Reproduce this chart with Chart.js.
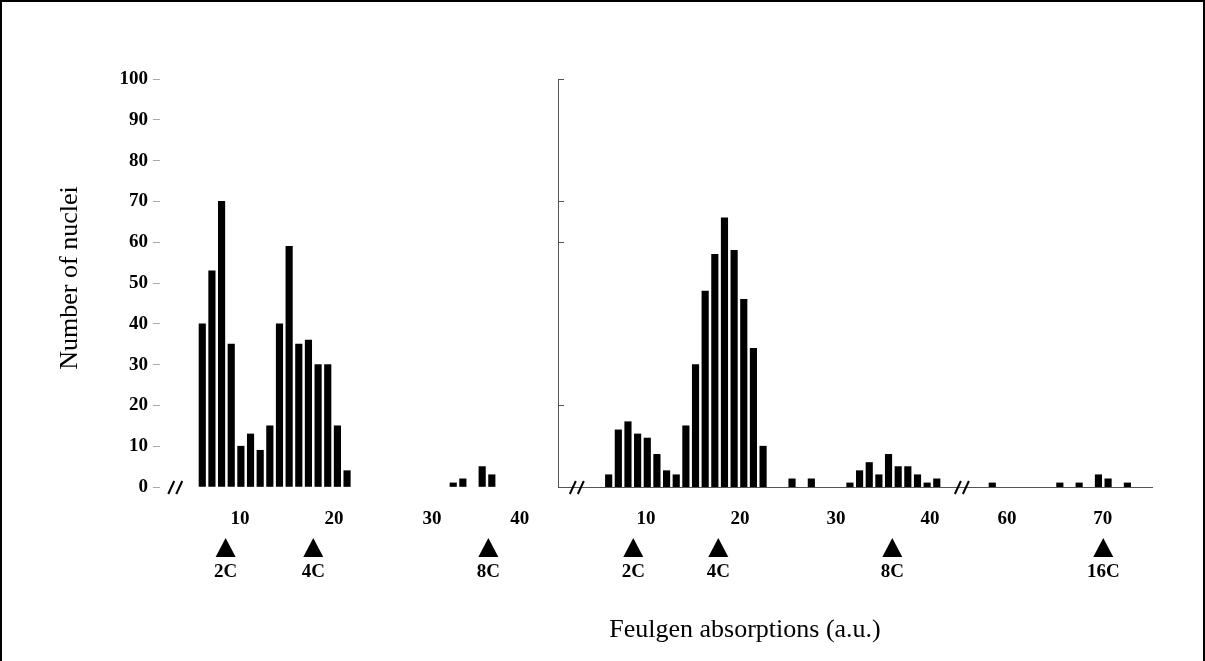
<!DOCTYPE html>
<html>
<head>
<meta charset="utf-8">
<script src="https://cdn.jsdelivr.net/npm/chart.js@4"></script>
<style>
  body { margin: 0; background: #fff; }
  #wrap { position: relative; width: 1205px; height: 661px; overflow: hidden; }
  #wrap canvas { position: absolute; left: 0; top: 0; }
  #frame { position: absolute; left: 0; top: 0; width: 1205px; height: 670px; box-sizing: border-box; border: 2px solid #000; }
</style>
</head>
<body>
<div id="wrap">
  <canvas id="leftCanvas" width="1205" height="661"></canvas>
  <canvas id="rightCanvas" width="1205" height="661"></canvas>
  <div id="frame"></div>
</div>
<script>
// left panel: bins along the drawn axis and the counts in them
const leftBins = [0, 1, 2, 3, 4, 5, 6, 7, 8, 9, 10, 11, 12, 13, 14, 15, 26, 27, 29, 30];
const leftCounts = [40, 53, 70, 35, 10, 13, 9, 15, 40, 59, 35, 36, 30, 30, 15, 4, 1, 2, 5, 3];
const leftTickAt = [3.9, 13.65, 23.8, 32.9];
const leftTickText = ['10', '20', '30', '40'];
const leftPloidyAt = [2.42, 11.5, 29.64];
const leftPloidyText = ['2C', '4C', '8C'];
const leftBreaks = [-2.8];

// right panel
const rightBins = [0, 1, 2, 3, 4, 5, 6, 7, 8, 9, 10, 11, 12, 13, 14, 15, 16, 19, 21,
  25, 26, 27, 28, 29, 30, 31, 32, 33, 34, 39.75, 46.75, 48.75, 50.75, 51.75, 53.75];
const rightCounts = [3, 14, 16, 13, 12, 8, 4, 3, 15, 30, 48, 57, 66, 58, 46, 34, 10, 2, 2,
  1, 4, 6, 3, 8, 5, 5, 3, 1, 2, 1, 1, 1, 3, 2, 1];
const rightTickAt = [3.87, 13.6, 23.55, 33.3, 41.27, 51.2];
const rightTickText = ['10', '20', '30', '40', '60', '70'];
const rightPloidyAt = [2.55, 11.36, 29.39, 51.25];
const rightPloidyText = ['2C', '4C', '8C', '16C'];
const rightBreaks = [-3.3, 36.6];
const rightYTicks = [0, 20, 60, 70, 100];

const FONT = '"Liberation Serif", "Times New Roman", serif';

function drawBreak(ctx, x, y) {
  ctx.save();
  ctx.strokeStyle = '#000';
  ctx.lineWidth = 2;
  [-4, 4].forEach(d => {
    ctx.beginPath();
    ctx.moveTo(x + d - 3, y + 7);
    ctx.lineTo(x + d + 3, y - 6);
    ctx.stroke();
  });
  ctx.restore();
}

const marks = {
  id: 'marks',
  afterDraw(chart, args, opts) {
    const ctx = chart.ctx;
    const x = chart.scales.x, y = chart.scales.y;
    const base = y.getPixelForValue(0);
    ctx.save();
    ctx.fillStyle = '#000';
    ctx.font = 'bold 19px ' + FONT;
    ctx.textAlign = 'center';
    ctx.textBaseline = 'middle';
    opts.ploidyAt.forEach((v, i) => {
      const px = x.getPixelForValue(v);
      ctx.beginPath();
      ctx.moveTo(px, base + 51);
      ctx.lineTo(px + 10, base + 70);
      ctx.lineTo(px - 10, base + 70);
      ctx.closePath();
      ctx.fill();
      ctx.fillText(opts.ploidyText[i], px, base + 85);
    });
    opts.breaks.forEach(v => drawBreak(ctx, x.getPixelForValue(v), base));

    // inward tick marks on the right panel's axis
    if (opts.innerTicks) {
      ctx.strokeStyle = '#555';
      ctx.lineWidth = 1;
      opts.innerTicks.forEach(v => {
        const py = Math.round(y.getPixelForValue(v)) + 0.5;
        ctx.beginPath();
        ctx.moveTo(x.left, py);
        ctx.lineTo(x.left + 6, py);
        ctx.stroke();
      });
    }

    ctx.font = '26px ' + FONT;
    if (opts.yTitle) {
      ctx.save();
      ctx.translate(70, (chart.chartArea.top + chart.chartArea.bottom) / 2 - 5);
      ctx.rotate(-Math.PI / 2);
      ctx.fillText(opts.yTitle, 0, 0);
      ctx.restore();
    }
    if (opts.xTitle) {
      ctx.fillText(opts.xTitle, 745, 630);
    }
    ctx.restore();
  }
};

function makePanel(id, bins, counts, cfg) {
  const ctx = document.getElementById(id).getContext('2d');
  return new Chart(ctx, {
    type: 'bar',
    data: {
      datasets: [{
        data: bins.map((b, i) => ({ x: b, y: counts[i] })),
        backgroundColor: '#000',
        borderWidth: 0,
        barThickness: 6.5
      }]
    },
    options: {
      responsive: false,
      animation: false,
      events: [],
      layout: { padding: cfg.padding },
      plugins: {
        legend: { display: false },
        tooltip: { enabled: false },
        marks: cfg.marks
      },
      scales: {
        x: {
          type: 'linear',
          min: cfg.xMin,
          max: cfg.xMax,
          offset: false,
          grid: { display: false, drawTicks: false, offset: false },
          border: { display: cfg.xBorder, color: '#555', width: 1 },
          afterBuildTicks: s => { s.ticks = cfg.tickAt.map(v => ({ value: v })); },
          afterFit: s => { s.height = 174; },
          ticks: {
            autoSkip: false,
            maxRotation: 0,
            padding: 21,
            color: '#000',
            font: { family: FONT, size: 19, weight: 'bold' },
            callback: v => cfg.tickText[cfg.tickAt.indexOf(v)]
          }
        },
        y: {
          min: 0,
          max: 100,
          afterFit: s => { s.width = cfg.yWidth; },
          grid: cfg.yGrid,
          border: cfg.yBorder,
          ticks: {
            display: cfg.yLabels,
            stepSize: 10,
            padding: 5,
            color: '#000',
            font: { family: FONT, size: 19, weight: 'bold' }
          }
        }
      }
    },
    plugins: [marks]
  });
}

makePanel('leftCanvas', leftBins, leftCounts, {
  padding: { left: 0, top: 79, right: 660, bottom: 0 },
  xMin: -4.38, xMax: 35.51,
  xBorder: false,
  tickAt: leftTickAt, tickText: leftTickText,
  yWidth: 160,
  yLabels: true,
  yGrid: { display: true, drawOnChartArea: false, drawTicks: true, tickLength: 7, color: '#aaa' },
  yBorder: { display: false },
  marks: {
    ploidyAt: leftPloidyAt, ploidyText: leftPloidyText,
    breaks: leftBreaks,
    yTitle: 'Number of nuclei'
  }
});

makePanel('rightCanvas', rightBins, rightCounts, {
  padding: { left: 548, top: 79, right: 53, bottom: 0 },
  xMin: -5.25, xMax: 56.3,
  xBorder: true,
  tickAt: rightTickAt, tickText: rightTickText,
  yWidth: 10,
  yLabels: false,
  yGrid: { display: false },
  yBorder: { display: true, color: '#555', width: 1 },
  marks: {
    ploidyAt: rightPloidyAt, ploidyText: rightPloidyText,
    breaks: rightBreaks,
    innerTicks: rightYTicks,
    xTitle: 'Feulgen absorptions (a.u.)'
  }
});
</script>
</body>
</html>
